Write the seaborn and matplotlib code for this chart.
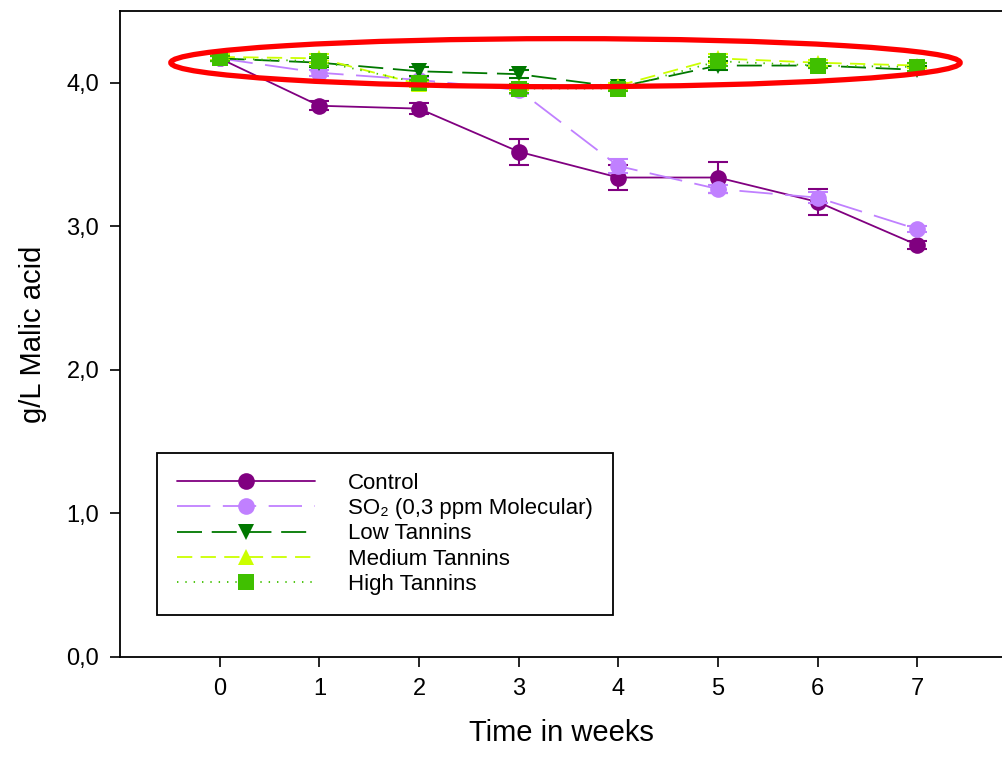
import matplotlib
matplotlib.use("Agg")
import matplotlib.pyplot as plt
from matplotlib.patches import Ellipse
from matplotlib.lines import Line2D
import seaborn as sns
import pandas as pd

weeks = [0, 1, 2, 3, 4, 5, 6, 7]

control = [4.17, 3.84, 3.82, 3.52, 3.34, 3.34, 3.17, 2.87]
control_err = [0.02, 0.03, 0.04, 0.09, 0.09, 0.11, 0.09, 0.03]

so2 = [4.17, 4.07, 4.02, 3.95, 3.42, 3.26, 3.20, 2.98]
so2_err = [0.02, 0.02, 0.02, 0.03, 0.05, 0.03, 0.04, 0.02]

low_tannins = [4.17, 4.14, 4.08, 4.06, 3.97, 4.12, 4.12, 4.09]
low_err = [0.02, 0.03, 0.03, 0.03, 0.02, 0.03, 0.02, 0.03]

medium_tannins = [4.18, 4.17, 3.99, 3.97, 3.98, 4.17, 4.14, 4.12]
medium_err = [0.02, 0.03, 0.02, 0.02, 0.02, 0.03, 0.02, 0.02]

high_tannins = [4.17, 4.15, 4.00, 3.96, 3.96, 4.15, 4.12, 4.11]
high_err = [0.02, 0.03, 0.02, 0.03, 0.02, 0.03, 0.02, 0.03]

labels = ["Control", "SO\u2082 (0,3 ppm Molecular)", "Low Tannins",
          "Medium Tannins", "High Tannins"]

sns.set_style("ticks")
plt.rcParams["font.family"] = ["Liberation Sans", "DejaVu Sans"]
plt.rcParams["lines.scale_dashes"] = False
plt.rcParams["text.color"] = "black"
plt.rcParams["axes.labelcolor"] = "black"
plt.rcParams["xtick.color"] = "black"
plt.rcParams["ytick.color"] = "black"
plt.rcParams["axes.edgecolor"] = "black"

series = [
    (control, control_err, "#800080", "o", "-"),
    (so2, so2_err, "#C080FF", "o", (0, (24, 9))),
    (low_tannins, low_err, "#007800", "v", (0, (18, 7))),
    (medium_tannins, medium_err, "#CCFF00", "^", (0, (11, 6))),
    (high_tannins, high_err, "#40C000", "s", (0, (1, 5))),
]

fig = plt.figure(figsize=(10.03, 7.61), dpi=100)
ax = fig.add_axes([120 / 1003, 104 / 761, 883 / 1003, 646 / 761])

handles = []
for (vals, errs, color, marker, ls), label in zip(series, labels):
    df = pd.DataFrame({"week": weeks, "value": vals})
    sns.lineplot(data=df, x="week", y="value", ax=ax, color=color,
                 marker=marker, markersize=12, markeredgewidth=0,
                 linewidth=1.3, linestyle=ls, label=label, legend=False)
    ax.errorbar(weeks, vals, yerr=errs, fmt="none", ecolor=color,
                elinewidth=1.5, capsize=7, capthick=1.5)
    handles.append(Line2D([], [], color=color, marker=marker, markersize=12,
                          markeredgewidth=0, linewidth=1.3, linestyle=ls))

ell = Ellipse((3.47, 4.14), 7.92, 0.335, fill=False, edgecolor="red",
              linewidth=3.8, zorder=10)
ax.add_patch(ell)

ax.set_xlim(-1.0, 7.86)
ax.set_ylim(0, 4.5)
ax.set_xticks(weeks)
ax.set_yticks([0, 1, 2, 3, 4])
ax.set_yticklabels(["0,0", "1,0", "2,0", "3,0", "4,0"])
ax.tick_params(axis="both", labelsize=17, length=7, width=1.2,
               direction="out", top=False, right=False, pad=8)
ax.spines["right"].set_visible(False)
for sp in ["left", "bottom", "top"]:
    ax.spines[sp].set_linewidth(1.3)

ax.set_xlabel("Time in weeks", fontsize=21, labelpad=14)
ax.set_ylabel("g/L Malic acid", fontsize=21, labelpad=14)

leg = ax.legend(handles, labels, loc="upper left",
                bbox_to_anchor=(37 / 883, 204 / 646), fontsize=16,
                handlelength=6.2, handletextpad=1.5, labelspacing=0.19,
                frameon=True, fancybox=False, borderpad=0.9,
                borderaxespad=0, framealpha=1)
leg.get_frame().set_edgecolor("black")
leg.get_frame().set_linewidth(1.3)

fig.savefig("out.png", dpi=100)
